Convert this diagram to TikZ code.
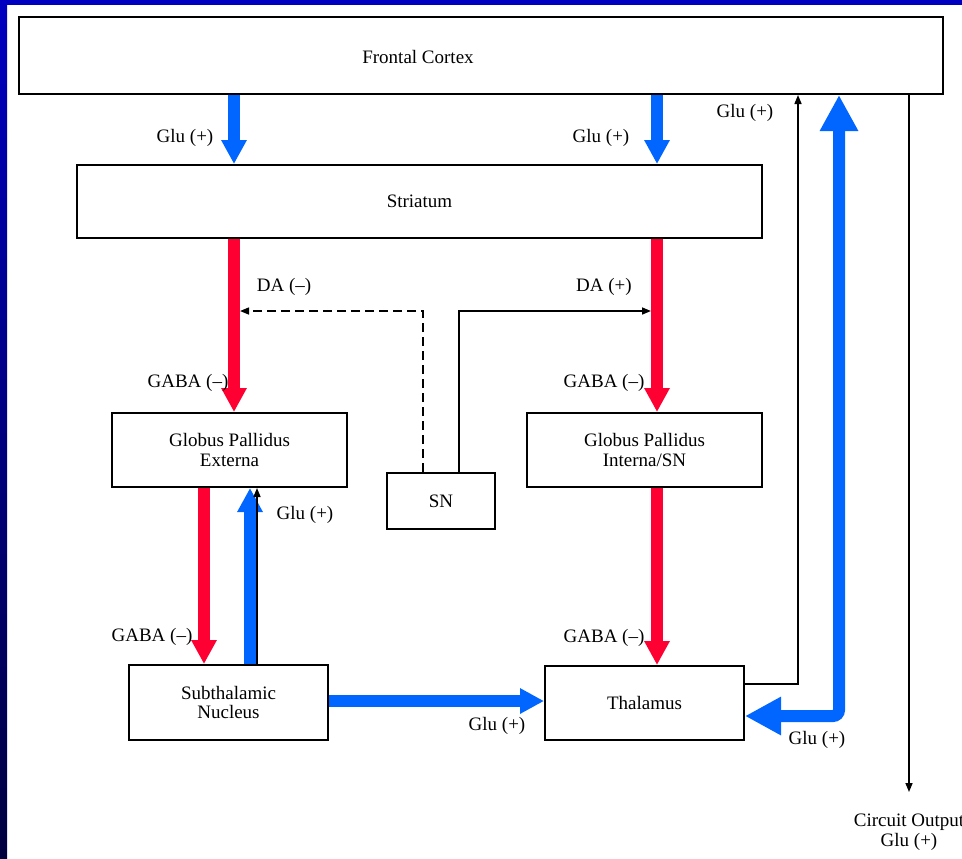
\documentclass[tikz,border=0pt]{standalone}
\usepackage{fontspec}
\setmainfont{Liberation Serif}
\usetikzlibrary{arrows.meta,calc}
\definecolor{ctx_blue}{RGB}{0, 102, 255}
\definecolor{ctx_red}{RGB}{255, 0, 51}
\definecolor{frame_blue}{RGB}{0, 0, 192}
\definecolor{frame_dark}{RGB}{0, 0, 64}
\tikzstyle{box}=[rectangle,draw=black,fill=white,
  line width=1pt,inner sep=0pt,align=center]
\tikzstyle{lbl}=[inner sep=0pt]
\tikzstyle{none}=[inner sep=0pt,minimum size=0pt]
\tikzstyle{bluearr}=[draw=ctx_blue,line width=6pt,
  -{Triangle[length=12pt,width=12pt]}]
\tikzstyle{redarr}=[draw=ctx_red,line width=6pt,
  -{Triangle[length=12pt,width=12pt]}]
\tikzstyle{bigarr}=[draw=ctx_blue,line width=6pt,rounded corners=3pt,
  {Triangle[length=18pt,width=18pt]}-{Triangle[length=18pt,width=18pt]}]
\tikzstyle{thinarr}=[draw=black,line width=0.75pt,
  -{Triangle[length=4.5pt,width=3.5pt]}]
\begin{document}
\begin{tikzpicture}[x=0.5pt, y=-0.5pt, every node/.style={font=\fontsize{9.5}{9.8}\selectfont}]
        \useasboundingbox (0,0) rectangle (962,858);
        \fill [white] (0,0) rectangle (962,858);
        \fill [frame_blue] (0,0) rectangle (962,5);
        \shade [top color=frame_blue, bottom color=frame_dark] (0,0) rectangle (7,858);
        \node [style=box, minimum width=462pt, minimum height=38.5pt] (0) at (481, 55.5) {};
        \node [style=lbl] (1) at (418, 57) {Frontal Cortex};
        \node [style=box, minimum width=342.5pt, minimum height=36.5pt] (2) at (419.5, 201.5) {Striatum};
        \node [style=box, minimum width=117.5pt, minimum height=37pt] (3) at (229.5, 450) {Globus Pallidus\\Externa};
        \node [style=box, minimum width=54pt, minimum height=28pt] (4) at (441, 501) {SN};
        \node [style=box, minimum width=117.5pt, minimum height=37pt] (5) at (644.5, 450) {Globus Pallidus\\Interna/SN};
        \node [style=box, minimum width=99.5pt, minimum height=37.5pt] (6) at (228.5, 702.5) {Subthalamic\\Nucleus};
        \node [style=box, minimum width=99.5pt, minimum height=37pt] (7) at (644.5, 703) {Thalamus};
        \node [style=none] (10) at (234, 0) {};
        \node [style=none] (11) at (657, 0) {};
        \node [style=none] (12) at (204, 0) {};
        \node [style=none] (13) at (250, 0) {};
        \node [style=none] (14) at (257, 0) {};
        \node [style=none] (15) at (423, 311) {};
        \node [style=none] (16) at (240, 311) {};
        \node [style=none] (17) at (459, 311) {};
        \node [style=none] (18) at (651, 311) {};
        \node [style=none] (19) at (0, 701) {};
        \node [style=none] (20) at (798, 684) {};
        \node [style=none] (21) at (839, 716) {};
        \node [style=none] (22) at (909, 792) {};
        \draw [style=bluearr] (0.south -| 10.center) to (2.north -| 10.center);
        \draw [style=bluearr] (0.south -| 11.center) to (2.north -| 11.center);
        \draw [style=redarr] (2.south -| 10.center) to (3.north -| 10.center);
        \draw [style=redarr] (2.south -| 11.center) to (5.north -| 11.center);
        \draw [style=redarr] (5.south -| 11.center) to (7.north -| 11.center);
        \draw [style=redarr] (3.south -| 12.center) to (6.north -| 12.center);
        \draw [style=bluearr] (6.north -| 13.center) to (3.south -| 13.center);
        \draw [style=thinarr] (6.north -| 14.center) to (3.south -| 14.center);
        \draw [style=thinarr, dash pattern=on 4.5pt off 2.5pt] (4.north -| 15.center) -- (15.center) -- (16.center);
        \draw [style=thinarr] (4.north -| 17.center) -- (17.center) -- (18.center);
        \draw [style=bluearr] (6.east |- 19.center) to (7.west |- 19.center);
        \draw [style=thinarr] (7.east |- 20.center) -- (20.center) -- (0.south -| 20.center);
        \draw [style=bigarr] (7.east |- 21.center) -- (21.center) -- (0.south -| 21.center);
        \draw [style=thinarr] (0.south -| 22.center) to (22.center);
        \node [style=lbl] (30) at (185, 138) {Glu (+)};
        \node [style=lbl] (31) at (601, 138) {Glu (+)};
        \node [style=lbl] (32) at (284, 287) {DA (--)};
        \node [style=lbl] (33) at (604, 287) {DA (+)};
        \node [style=lbl] (34) at (188, 383) {GABA (--)};
        \node [style=lbl] (35) at (604, 383) {GABA (--)};
        \node [style=lbl] (36) at (305, 515) {Glu (+)};
        \node [style=lbl] (37) at (152, 637) {GABA (--)};
        \node [style=lbl] (38) at (604, 638) {GABA (--)};
        \node [style=lbl] (39) at (497, 726) {Glu (+)};
        \node [style=lbl] (40) at (745, 113) {Glu (+)};
        \node [style=lbl] (41) at (817, 740) {Glu (+)};
        \node [style=lbl, align=center] (42) at (909, 832) {Circuit Output\\Glu (+)};
    \end{tikzpicture}
\end{document}
